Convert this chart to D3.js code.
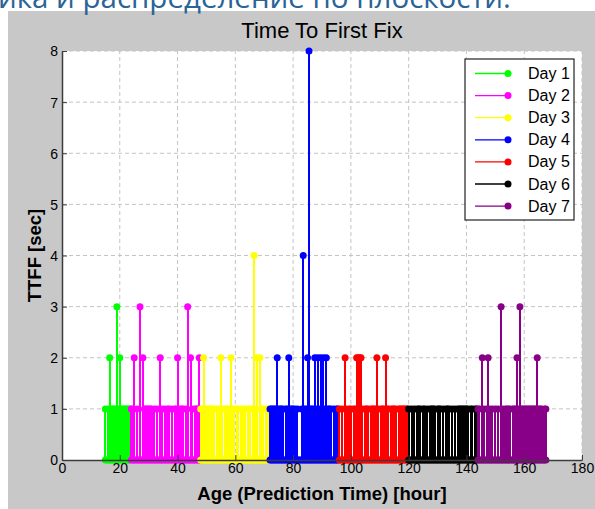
<!DOCTYPE html>
<html lang="en">
<head>
	<meta charset="utf-8">
	<title>Time To First Fix</title>
	<script src="https://d3js.org/d3.v7.min.js" charset="utf-8"></script>
	<style>
		body {
			margin: 0;
			background: #ffffff;
			font-family: "Liberation Sans", Arial, sans-serif;
		}
		svg text {
			fill: #000;
		}
	</style>
</head>
<body>
	<script>
		// Values (TTFF in seconds, one sample every half hour)
		var dayNames = ["Day 1", "Day 2", "Day 3", "Day 4", "Day 5", "Day 6", "Day 7"];
		var dayColors = ["#00ff00", "#ff00ff", "#ffff00", "#0000ff", "#ff0000", "#000000", "#880088"];
		var dayStart = [15, 24, 48, 72, 96, 120, 144];
		var sampleStep = 0.5;

		var day1 = [1,0,1,2,1,1,1,1,3,1,2,1,1,1,1,1,1,1];
		var day2 = [1,1,2,0,1,0,3,0,2,1, 1,1,1,1,1,0,1,0,1,0, 2,1,0,1,0,1,1,0,1,0, 1,1,2,0,1,1,1,0,1,3, 0,2,1,0,1,1,1,2];
		var day3 = [1,1,2,1,1,1,1,1,1,1, 0,1,0,1,2,1,0,1,1,1, 1,2,1,1,0,1,1,0,1,1, 0,1,0,1,1,0,1,4,1,2, 0,2,1,1,0,1,1,1];
		var day4 = [1,1,1,1,1,2,1,1,1,1, 0,1,1,2,1,1,1,1,0,1, 0,0,1,4,1,1,2,8,1,1, 1,2,1,2,1,2,1,2,1,2, 1,1,1,0,1,0,1,1];
		var day5 = [1,0,1,0,2,1,0,1,1,0, 1,1,2,2,2,2,1,0,1,1, 1,0,1,1,1,1,2,1,0,1, 1,1,2,1,1,0,1,1,1,1, 0,1,1,1,1,1,1,1];
		var day6 = [1,0,1,0,1,0,1,1,1,0, 1,1,0,1,0,1,1,1,1,0, 1,1,1,0,1,0,1,1,1,0, 1,0,1,0,1,1,1,1,1,1, 1,1,0,1,1,0,1,1];
		var day7 = [1,1,0,2,1,0,1,2,1,0, 1,0,1,0,1,0,3,1,0,1, 1,1,1,0,1,1,1,2,1,3, 1,1,1,1,1,1,1,1,1,1, 1,2,1,1,1,0,1,1];
		var dayValues = [day1, day2, day3, day4, day5, day6, day7];

		var xTicks = [0, 20, 40, 60, 80, 100, 120, 140, 160, 180];
		var yTicks = [0, 1, 2, 3, 4, 5, 6, 7, 8];

		var width = 595;
		var height = 509;
		var margin = { left: 62, right: 13, top: 51, bottom: 49 };

		var svg = d3.select("body")
			.append("svg")
			.attr("width", width)
			.attr("height", height);

		// figure background (grey MATLAB window)
		svg.append("rect")
			.attr("x", 8).attr("y", 11)
			.attr("width", width - 8).attr("height", height - 11)
			.attr("fill", "#c8c8c8");

		// cut-off heading of the page above the figure
		svg.append("text")
			.attr("x", -2).attr("y", 8)
			.attr("font-family", "'Open Sans', sans-serif")
			.attr("font-size", 29.5)
			.style("fill", "#2a6496")
			.text("ика и распределение по плоскости.");

		var x = d3.scaleLinear().domain([0, 180]).range([margin.left, width - margin.right]);
		var y = d3.scaleLinear().domain([0, 8]).range([height - margin.bottom, margin.top]);

		// plot area
		svg.append("rect")
			.attr("x", x(0)).attr("y", y(8))
			.attr("width", x(180) - x(0)).attr("height", y(0) - y(8))
			.attr("fill", "#ffffff");

		// dashed grid
		var grid = svg.append("g").attr("stroke", "#c4c4c4").attr("stroke-dasharray", "4,3").attr("stroke-width", 1);
		grid.selectAll(".gx")
			.data(xTicks.slice(1))
			.enter().append("line")
			.attr("x1", function(d) { return x(d); }).attr("x2", function(d) { return x(d); })
			.attr("y1", y(0)).attr("y2", y(8));
		grid.selectAll(".gy")
			.data(yTicks.slice(1))
			.enter().append("line")
			.attr("x1", x(0)).attr("x2", x(180))
			.attr("y1", function(d) { return y(d); }).attr("y2", function(d) { return y(d); });

		// stems
		var plot = svg.append("g");
		dayValues.forEach(function(vals, k) {
			var pts = vals.map(function(v, i) { return { t: dayStart[k] + i * sampleStep, v: v }; });
			var g = plot.append("g");
			g.selectAll("line")
				.data(pts.filter(function(p) { return p.v > 0; }))
				.enter().append("line")
				.attr("x1", function(p) { return x(p.t); }).attr("x2", function(p) { return x(p.t); })
				.attr("y1", y(0)).attr("y2", function(p) { return y(p.v); })
				.attr("stroke", dayColors[k])
				.attr("stroke-width", 2)
				.attr("shape-rendering", "crispEdges");
			g.selectAll(".base")
				.data(pts)
				.enter().append("circle")
				.attr("cx", function(p) { return x(p.t); })
				.attr("cy", y(0))
				.attr("r", 3.5)
				.attr("fill", dayColors[k]);
			g.selectAll(".top")
				.data(pts.filter(function(p) { return p.v > 0; }))
				.enter().append("circle")
				.attr("cx", function(p) { return x(p.t); })
				.attr("cy", function(p) { return y(p.v); })
				.attr("r", 3.5)
				.attr("fill", dayColors[k]);
		});

		// axes
		var xAxis = svg.append("g")
			.attr("transform", "translate(0," + y(0) + ")")
			.call(d3.axisBottom(x).tickValues(xTicks).tickSizeInner(-5).tickSizeOuter(0).tickPadding(3));
		var yAxis = svg.append("g")
			.attr("transform", "translate(" + x(0) + ",0)")
			.call(d3.axisLeft(y).tickValues(yTicks).tickSizeInner(-5).tickSizeOuter(0).tickPadding(4));
		[xAxis, yAxis].forEach(function(a) {
			a.select(".domain").attr("stroke", "#3c3c3c").attr("stroke-width", 1.5);
			a.selectAll(".tick line").attr("stroke", "#3c3c3c");
			a.selectAll(".tick text")
				.attr("font-family", "'Liberation Sans', Arial, sans-serif")
				.attr("font-size", 14)
				.style("fill", "#000");
		});
		yAxis.selectAll(".tick text").attr("dy", "0.35em");

		// title and labels
		svg.append("text")
			.attr("x", (x(0) + x(180)) / 2).attr("y", 38)
			.attr("text-anchor", "middle")
			.attr("font-size", 22)
			.text("Time To First Fix");
		svg.append("text")
			.attr("x", (x(0) + x(180)) / 2).attr("y", 500)
			.attr("text-anchor", "middle")
			.attr("font-size", 18.5)
			.attr("font-weight", "bold")
			.text("Age (Prediction Time) [hour]");
		svg.append("text")
			.attr("transform", "translate(41," + ((y(0) + y(8)) / 2) + ") rotate(-90)")
			.attr("text-anchor", "middle")
			.attr("font-size", 18.5)
			.attr("font-weight", "bold")
			.text("TTFF [sec]");

		// legend
		var legend = svg.append("g").attr("transform", "translate(465,59)");
		legend.append("rect")
			.attr("width", 109).attr("height", 161)
			.attr("fill", "#ffffff")
			.attr("stroke", "#222").attr("stroke-width", 1.2);
		dayNames.forEach(function(name, k) {
			var ly = 14.5 + k * 22.1;
			legend.append("line")
				.attr("x1", 10).attr("x2", 43)
				.attr("y1", ly).attr("y2", ly)
				.attr("stroke", dayColors[k]).attr("stroke-width", 1.3);
			legend.append("circle")
				.attr("cx", 43).attr("cy", ly).attr("r", 3.5)
				.attr("fill", dayColors[k]);
			legend.append("text")
				.attr("x", 63).attr("y", ly + 5.5)
				.attr("font-size", 16)
				.text(name);
		});
	</script>
</body>
</html>
